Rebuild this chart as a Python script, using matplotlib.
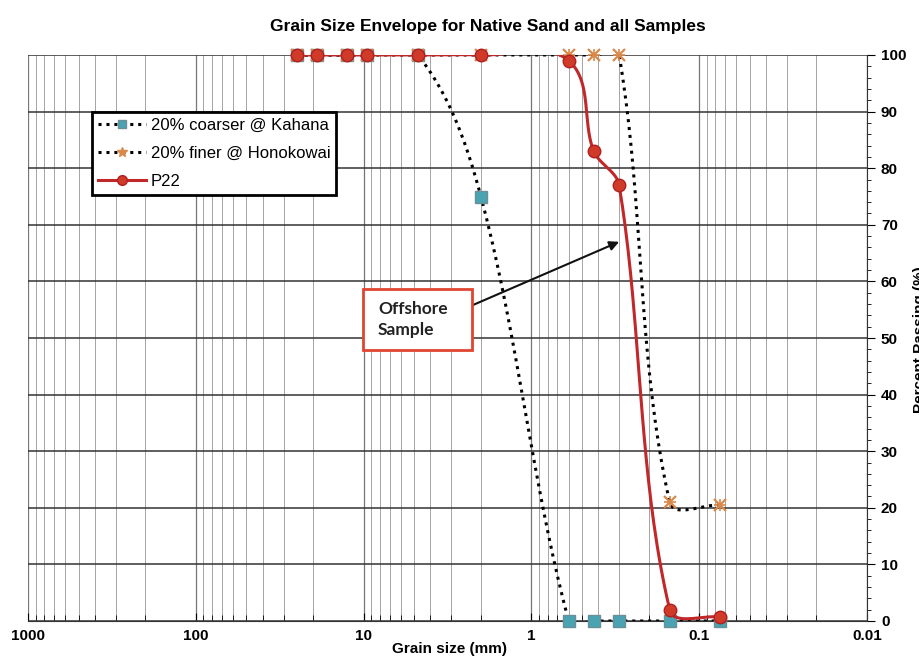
import numpy as np
import matplotlib
matplotlib.use("Agg")
import matplotlib.pyplot as plt
from matplotlib.lines import Line2D
from matplotlib.patches import Rectangle
from matplotlib.ticker import FixedLocator, LogLocator, NullFormatter

# sieve sizes (mm)
sizes = [25.0, 19.0, 12.5, 9.5, 4.75, 2.0, 0.6, 0.425, 0.3, 0.15, 0.075]
kahana = [100, 100, 100, 100, 100, 75, 0, 0, 0, 0, 0]
honokowai = [100, 100, 100, 100, 100, 100, 100, 100, 100, 21, 20.5]
p22 = [100, 100, 100, 100, 100, 100, 99, 83, 77, 2, 0.7]

x_ticks = [1000, 100, 10, 1, 0.1, 0.01]
x_labels = ["1000", "100", "10", "1", "0.1", "0.01"]
y_ticks = list(range(0, 101, 10))

plt.rcParams["font.family"] = ["Liberation Sans", "DejaVu Sans"]


def smooth(ax, x, y, n=40):
    # Excel-like smoothed line, built in screen space
    pts = ax.transData.transform(np.column_stack([x, y]))
    m = len(pts)
    tang = np.zeros_like(pts)
    for i in range(m):
        a = pts[max(i - 1, 0)]
        b = pts[min(i + 1, m - 1)]
        d = b - a
        nrm = np.hypot(*d)
        tang[i] = d / nrm if nrm > 0 else 0
    t = np.linspace(0, 1, n)[:, None]
    out = []
    for i in range(m - 1):
        p1, p2 = pts[i], pts[i + 1]
        seg = np.hypot(*(p2 - p1))
        c1 = p1 + tang[i] * seg / 3
        c2 = p2 - tang[i + 1] * seg / 3
        out.append((1 - t) ** 3 * p1 + 3 * (1 - t) ** 2 * t * c1
                   + 3 * (1 - t) * t ** 2 * c2 + t ** 3 * p2)
    out = ax.transData.inverted().transform(np.vstack(out))
    return out[:, 0], out[:, 1]


fig = plt.figure(figsize=(9.19, 6.6), dpi=100)
ax = fig.add_axes([28 / 919, 1 - 621 / 660, 839 / 919, 566 / 660])
ax.set_xscale("log")
ax.set_xlim(1000, 0.01)
ax.set_ylim(0, 100)

red = "#c0282a"
teal = "#4aa3b2"
orange = "#d9894a"
dots = (0, (1, 1.6))

# Kahana
sx, sy = smooth(ax, sizes, kahana)
ax.plot(sx, sy, color="black", linestyle=dots, linewidth=2.2, zorder=3)
ax.plot(sizes, kahana, linestyle="none", marker="s", markersize=8.5,
        markerfacecolor=teal, markeredgecolor="#6b8f96", zorder=4, clip_on=False)

# Honokowai
sx, sy = smooth(ax, sizes, honokowai)
ax.plot(sx, sy, color="black", linestyle=dots, linewidth=2.2, zorder=3)
ax.plot(sizes, honokowai, linestyle="none", marker="x", markersize=8,
        markeredgewidth=1.6, color=orange, zorder=4, clip_on=False)
ax.plot(sizes, honokowai, linestyle="none", marker="+", markersize=8,
        markeredgewidth=1.2, color=orange, zorder=4, clip_on=False)

# P22
sx, sy = smooth(ax, sizes, p22)
ax.plot(sx, sy, color=red, linewidth=2.2, zorder=5)
ax.plot(sizes, p22, linestyle="none", marker="o", markersize=9,
        markerfacecolor="#d03a28", markeredgecolor="#b02020", zorder=6, clip_on=False)

ax.xaxis.set_major_locator(FixedLocator(x_ticks))
ax.set_xticklabels(x_labels, fontweight="bold", fontsize=11)
ax.xaxis.set_minor_locator(LogLocator(base=10, subs=np.arange(2, 10)))
ax.xaxis.set_minor_formatter(NullFormatter())
ax.tick_params(axis="x", which="major", direction="in", length=6, pad=6)
ax.tick_params(axis="x", which="minor", direction="in", length=4)

ax.yaxis.tick_right()
ax.set_yticks(y_ticks)
ax.set_yticklabels([str(v) for v in y_ticks], fontweight="bold", fontsize=11)
ax.yaxis.set_minor_locator(FixedLocator(np.arange(0, 101, 2)))
ax.tick_params(axis="y", which="major", direction="out", length=6, pad=4)
ax.tick_params(axis="y", which="minor", direction="out", length=3)

ax.grid(True, which="major", axis="x", color="#777777", linewidth=0.9)
ax.grid(True, which="minor", axis="x", color="#a5a5a5", linewidth=0.7)
ax.grid(True, which="major", axis="y", color="#333333", linewidth=1.1)

for s in ["top", "left"]:
    ax.spines[s].set_visible(False)
ax.spines["bottom"].set_color("#333333")
ax.spines["right"].set_color("#333333")

fig.text(488 / 919, 1 - 27 / 660, "Grain Size Envelope for Native Sand and all Samples",
         fontsize=12.5, fontweight="bold", ha="center", va="center")
fig.text(449 / 919, 1 - 649 / 660, "Grain size (mm)", fontsize=11,
         fontweight="bold", ha="center", va="center")
fig.text(913 / 919, 1 - 340 / 660, "Percent Passing (%)", fontsize=11,
         fontweight="bold", rotation=90, ha="left", va="center")

handles = [
    Line2D([], [], color="black", linestyle=dots, linewidth=2.2,
           marker="s", markersize=6, markerfacecolor=teal, markeredgecolor="#6b8f96"),
    Line2D([], [], color="black", linestyle=dots, linewidth=2.2,
           marker="*", markersize=7, markerfacecolor=orange, markeredgecolor=orange),
    Line2D([], [], color=red, linewidth=2.2, marker="o", markersize=7,
           markerfacecolor="#d03a28", markeredgecolor="#b02020"),
]
leg = ax.legend(handles, ["20% coarser @ Kahana", "20% finer @ Honokowai", "P22"],
                loc="upper left", bbox_to_anchor=(0.076, 0.9), fancybox=False,
                framealpha=1, edgecolor="black", fontsize=12, handlelength=2.9,
                borderpad=0.35, labelspacing=0.8, handletextpad=0.3,
                borderaxespad=0)
leg.get_frame().set_linewidth(2)
leg.set_zorder(10)

# "Offshore Sample" callout
fig.patches.append(Rectangle((363 / 919, 1 - 350 / 660), 109 / 919, 61 / 660,
                             transform=fig.transFigure, facecolor="white",
                             edgecolor="#e0452f", linewidth=2, zorder=8))
fig.text(378 / 919, 1 - 319.5 / 660, "Offshore\nSample", fontsize=12.5,
         family=["Lato", "DejaVu Sans"], fontweight="bold", color="#222222",
         ha="left", va="center", linespacing=1.35, zorder=9)
ax.annotate("", xy=(0.3, 67), xytext=(473 / 919, 1 - 305 / 660),
            textcoords="figure fraction",
            arrowprops=dict(arrowstyle="-|>", color="#111111", linewidth=1.5,
                            mutation_scale=14, shrinkA=0, shrinkB=0),
            zorder=9)

fig.savefig("out.png", dpi=100)
